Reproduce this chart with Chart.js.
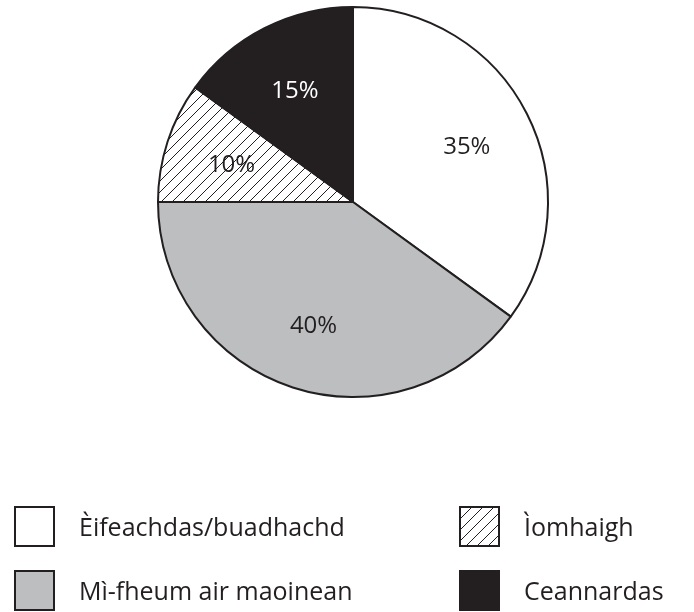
<!DOCTYPE html>
<html>
<head>
<meta charset="utf-8">
<script src="https://cdn.jsdelivr.net/npm/chart.js@4"></script>
<style>
  html, body { margin: 0; padding: 0; background: #fff; }
  #wrap { width: 694px; height: 612px; position: relative; }
</style>
</head>
<body>
<div id="wrap"><canvas id="pie-chart" width="694" height="612"></canvas></div>
<script>
// Pie chart data
const categories = ['Èifeachdas/buadhachd', 'Mì-fheum air maoinean', 'Ìomhaigh', 'Ceannardas'];
const shares = [35, 40, 10, 15];
const valueLabels = ['35%', '40%', '10%', '15%'];

const INK = '#231f20';
const FONT = '"Open Sans", "Noto Sans", sans-serif';

// Diagonal hatch pattern (bottom-left to top-right)
function makeHatch() {
    const size = 11;
    const c = document.createElement('canvas');
    c.width = size;
    c.height = size;
    const g = c.getContext('2d');
    g.fillStyle = '#fff';
    g.fillRect(0, 0, size, size);
    g.strokeStyle = INK;
    g.lineWidth = 1;
    g.beginPath();
    g.moveTo(-1, size + 1);
    g.lineTo(size + 1, -1);
    g.moveTo(-1, 1);
    g.lineTo(1, -1);
    g.moveTo(size - 1, size + 1);
    g.lineTo(size + 1, size - 1);
    g.stroke();
    return document.getElementById('pie-chart').getContext('2d').createPattern(c, 'repeat');
}

const hatch = makeHatch();
const fills = ['#ffffff', '#bcbec0', hatch, INK];
const labelColors = [INK, INK, INK, '#ffffff'];

// Percent labels inside the slices
const sliceLabels = {
    id: 'sliceLabels',
    afterDatasetsDraw(chart) {
        const ctx = chart.ctx;
        const meta = chart.getDatasetMeta(0);
        ctx.save();
        ctx.font = '24px ' + FONT;
        ctx.textAlign = 'center';
        ctx.textBaseline = 'middle';
        meta.data.forEach((arc, i) => {
            const p = arc.getProps(['x', 'y', 'startAngle', 'endAngle', 'outerRadius'], true);
            const mid = (p.startAngle + p.endAngle) / 2;
            const r = p.outerRadius * 0.655;
            ctx.fillStyle = labelColors[i];
            ctx.fillText(valueLabels[i], p.x + Math.cos(mid) * r, p.y + Math.sin(mid) * r + 3);
        });
        ctx.restore();
    }
};

// Two-column legend under the pie
const boxLegend = {
    id: 'boxLegend',
    afterDraw(chart) {
        const ctx = chart.ctx;
        const order = [0, 2, 1, 3]; // row by row: left, right
        ctx.save();
        ctx.font = '25px ' + FONT;
        ctx.textBaseline = 'middle';
        ctx.textAlign = 'left';
        order.forEach((idx, n) => {
            const col = n % 2;
            const row = Math.floor(n / 2);
            const bx = col === 0 ? 15 : 460;
            const by = row === 0 ? 507 : 571;
            ctx.fillStyle = fills[idx];
            ctx.fillRect(bx, by, 39, 39);
            ctx.strokeStyle = INK;
            ctx.lineWidth = 2;
            ctx.strokeRect(bx, by, 39, 39);
            ctx.fillStyle = INK;
            ctx.fillText(categories[idx], bx + 64, by + 22);
        });
        ctx.restore();
    }
};

new Chart(document.getElementById('pie-chart'), {
    type: 'pie',
    data: {
        labels: categories,
        datasets: [{
            data: shares,
            backgroundColor: fills,
            borderColor: INK,
            borderWidth: 2
        }]
    },
    options: {
        responsive: false,
        animation: false,
        layout: {
            padding: { top: 6, bottom: 214, left: 157, right: 145 }
        },
        plugins: {
            legend: { display: false },
            tooltip: { enabled: false }
        }
    },
    plugins: [sliceLabels, boxLegend]
});
</script>
</body>
</html>
